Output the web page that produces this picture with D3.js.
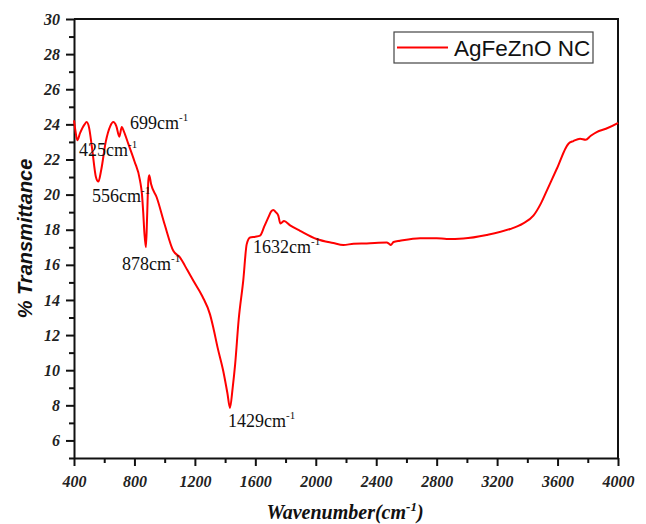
<!DOCTYPE html>
<html>
<head>
<meta charset="utf-8">
<script src="https://cdn.jsdelivr.net/npm/d3@7"></script>
<style>
  body { margin: 0; background: #fff; }
  .tick text { font-family: "Liberation Serif", "Times New Roman", serif; font-weight: bold; font-style: italic; font-size: 16px; fill: #222; }
  .peak { font-family: "Liberation Serif", "Times New Roman", serif; font-size: 18px; fill: #111; }
</style>
</head>
<body>
<svg id="chart" width="646" height="524"></svg>
<script>
// FTIR spectrum
const wavenumber = [400, 410, 422, 440, 470, 484, 500, 520, 545, 561, 580, 610, 640, 660, 680, 700, 716, 730, 759, 800,
  837, 850, 858, 866, 876, 884, 892, 898, 910, 947, 1000, 1057, 1101, 1150, 1190, 1250, 1300, 1322, 1350, 1388,
  1415, 1432, 1450, 1466, 1490, 1520, 1543, 1565, 1600, 1631, 1660, 1686, 1705, 1719, 1735, 1752, 1766, 1774, 1790, 1830,
  1896, 2006, 2116, 2182, 2250, 2337, 2470, 2485, 2496, 2515, 2557, 2690, 2800, 2866, 2977, 3131, 3286, 3370, 3440, 3490,
  3529, 3595, 3672, 3705, 3749, 3786, 3820, 3859, 3920, 3992, 4000];
const transmittance = [24.23, 23.6, 23.1, 23.5, 24.0, 24.13, 23.8, 22.6, 21.0, 20.74, 21.4, 23.0, 23.9, 24.13, 23.9, 23.3, 23.85, 23.6, 22.9, 21.9,
  20.8, 20.0, 19.0, 17.8, 17.0, 18.8, 20.8, 21.1, 20.6, 19.85, 18.3, 16.8, 16.42, 15.7, 15.09, 14.2, 13.18, 12.42, 11.3, 9.94,
  8.7, 7.85, 9.0, 10.3, 12.9, 15.1, 17.18, 17.56, 17.6, 17.66, 18.2, 18.7, 19.05, 19.13, 19.0, 18.8, 18.35, 18.4, 18.5, 18.25,
  17.94, 17.47, 17.24, 17.13, 17.2, 17.22, 17.27, 17.2, 17.13, 17.3, 17.37, 17.52, 17.52, 17.47, 17.5, 17.7, 18.04, 18.35, 18.8, 19.5,
  20.23, 21.47, 22.9, 23.05, 23.18, 23.12, 23.35, 23.56, 23.75, 24.04, 24.08];

const xTicks = [400, 800, 1200, 1600, 2000, 2400, 2800, 3200, 3600, 4000];
const yTicks = [6, 8, 10, 12, 14, 16, 18, 20, 22, 24, 26, 28, 30];

// peak labels, anchored in data units (left edge / baseline)
const peakLabels = ["425", "556", "699", "878", "1632", "1429"];
const peakX = [433, 519, 771, 718, 1585, 1419];
const peakY = [22.2, 19.58, 23.74, 15.71, 16.67, 6.77];

const seriesName = "AgFeZnO NC";

const margin = {top: 19, right: 28, bottom: 66, left: 74};
const width = 646 - margin.left - margin.right;
const height = 524 - margin.top - margin.bottom;

const svg = d3.select("#chart");
const g = svg.append("g").attr("transform", `translate(${margin.left},${margin.top})`);

const x = d3.scaleLinear().domain([400, 4000]).range([0, width]);
const y = d3.scaleLinear().domain([5, 30]).range([height, 0]);

// minor ticks first
g.append("g")
  .attr("transform", `translate(0,${height})`)
  .call(d3.axisBottom(x).tickValues(d3.range(600, 4000, 400)).tickSize(5).tickFormat(""))
  .call(a => a.select(".domain").remove())
  .selectAll("line").attr("stroke", "#111").attr("stroke-width", 2);
g.append("g")
  .call(d3.axisLeft(y).tickValues(d3.range(5, 30, 2)).tickSize(5).tickFormat(""))
  .call(a => a.select(".domain").remove())
  .selectAll("line").attr("stroke", "#111").attr("stroke-width", 2);

// main axes
const xAxis = g.append("g")
  .attr("transform", `translate(0,${height})`)
  .call(d3.axisBottom(x).tickValues(xTicks).tickFormat(d3.format("d")).tickSize(8).tickPadding(10).tickSizeOuter(0));
const yAxis = g.append("g")
  .call(d3.axisLeft(y).tickValues(yTicks).tickFormat(d3.format("d")).tickSize(8).tickPadding(6).tickSizeOuter(0));
[xAxis, yAxis].forEach(a => {
  a.select(".domain").attr("stroke", "#111").attr("stroke-width", 2);
  a.selectAll("line").attr("stroke", "#111").attr("stroke-width", 2);
});

// top & right frame
g.append("path")
  .attr("d", `M0,0H${width}V${height}`)
  .attr("fill", "none").attr("stroke", "#111").attr("stroke-width", 2);

// spectrum
const line = d3.line()
  .x((d, i) => x(wavenumber[i]))
  .y(d => y(d))
  .curve(d3.curveMonotoneX);

g.append("path")
  .datum(transmittance)
  .attr("fill", "none")
  .attr("stroke", "#ff0000")
  .attr("stroke-width", 2)
  .attr("d", line);

// peak labels
peakLabels.forEach((lab, i) => {
  const t = g.append("text").attr("class", "peak")
    .attr("x", x(peakX[i])).attr("y", y(peakY[i]));
  t.append("tspan").text(lab + "cm");
  t.append("tspan").attr("dy", -8).attr("font-size", 11).text("-1");
});

// legend
const lg = svg.append("g").attr("transform", "translate(394,32)");
lg.append("rect").attr("width", 199).attr("height", 31)
  .attr("fill", "#fff").attr("stroke", "#444").attr("stroke-width", 1.2);
lg.append("line").attr("x1", 3).attr("x2", 54).attr("y1", 15.5).attr("y2", 15.5)
  .attr("stroke", "#ff0000").attr("stroke-width", 2);
lg.append("text").attr("x", 60).attr("y", 23.5)
  .attr("font-family", "Liberation Sans, Arial, sans-serif").attr("font-size", 22.5).attr("fill", "#111")
  .text(seriesName);

// axis titles
const xt = svg.append("text")
  .attr("x", margin.left + width / 2 - 1).attr("y", 519)
  .attr("text-anchor", "middle")
  .attr("font-family", "Liberation Serif, Times New Roman, serif")
  .attr("font-weight", "bold").attr("font-style", "italic").attr("font-size", 20).attr("fill", "#111");
xt.append("tspan").text("Wavenumber(cm");
xt.append("tspan").attr("dy", -8).attr("font-size", 13).text("-1");
xt.append("tspan").attr("dy", 8).text(")");

svg.append("text")
  .attr("transform", `translate(32,${margin.top + height / 2}) rotate(-90)`)
  .attr("text-anchor", "middle")
  .attr("font-family", "Liberation Sans, Arial, sans-serif")
  .attr("font-weight", "bold").attr("font-style", "italic").attr("font-size", 20).attr("fill", "#111")
  .text("% Transmittance");
</script>
</body>
</html>
